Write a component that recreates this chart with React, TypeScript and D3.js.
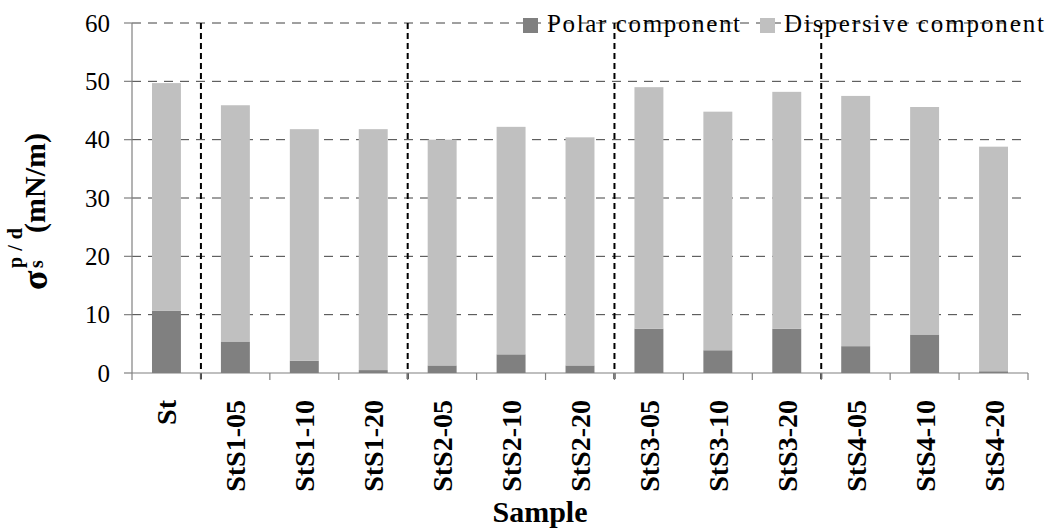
import React from 'react';
import { scaleBand, scaleLinear, stack, range } from 'd3';

const width = 1046;
const height = 529;
const margin = { top: 23, right: 18, bottom: 156, left: 132 };

const samples = ['St', 'StS1-05', 'StS1-10', 'StS1-20', 'StS2-05', 'StS2-10', 'StS2-20',
    'StS3-05', 'StS3-10', 'StS3-20', 'StS4-05', 'StS4-10', 'StS4-20'];
const polar = [10.7, 5.4, 2.1, 0.5, 1.3, 3.2, 1.3, 7.6, 3.9, 7.6, 4.6, 6.6, 0.3];
const dispersive = [39.0, 40.5, 39.7, 41.3, 38.7, 39.0, 39.1, 41.4, 40.9, 40.6, 42.9, 39.0, 38.5];
const yTicks = [0, 10, 20, 30, 40, 50, 60];
// indices of the first sample in each group (a dashed line is drawn before them)
const groupStarts = [1, 4, 7, 10];

const seriesKeys = ['polar', 'dispersive'];
const seriesNames = ['Polar component', 'Dispersive component'];
const colors = ['#808080', '#c0c0c0'];

const FONT = 'Liberation Serif, Times New Roman, Tinos, serif';
const tx = { fontFamily: FONT };

const App = () => {
    const plotW = width - margin.left - margin.right;
    const plotH = height - margin.top - margin.bottom;

    const x = scaleBand().domain(samples).range([margin.left, margin.left + plotW])
        .paddingInner(0.58).paddingOuter(0.29);
    const y = scaleLinear().domain([0, 60]).range([margin.top + plotH, margin.top]);

    const rows = samples.map((s, i) => ({ sample: s, polar: polar[i], dispersive: dispersive[i] }));
    const layers = stack().keys(seriesKeys)(rows as any);

    const step = x.step();
    const boundary = (i) => margin.left + i * step;
    const y0 = y(0);

    return (
        <svg width={width} height={height} style={{ position: 'absolute', left: 0, top: 0, fontFamily: FONT }}>
            <rect width={width} height={height} fill="#fff" />
            {/* horizontal grid */}
            {yTicks.filter(t => t > 0).map(t => (
                <line key={t} x1={margin.left} x2={margin.left + plotW} y1={y(t)} y2={y(t)}
                    stroke="#404040" strokeWidth={1} strokeDasharray="9,7" />
            ))}
            {/* bars */}
            {layers.map((layer, li) => (
                <g key={li} fill={colors[li]}>
                    {layer.map((d, i) => (
                        <rect key={i} x={x(samples[i])} width={x.bandwidth()}
                            y={y(d[1])} height={y(d[0]) - y(d[1])} />
                    ))}
                </g>
            ))}
            {/* group separators */}
            {groupStarts.map(g => (
                <line key={g} x1={boundary(g)} x2={boundary(g)} y1={y(60)} y2={y0 + 7}
                    stroke="#000" strokeWidth={2} strokeDasharray="6,4" />
            ))}
            {/* axes */}
            <line x1={margin.left} x2={margin.left} y1={y(60)} y2={y0} stroke="#808080" strokeWidth={1.2} />
            <line x1={margin.left} x2={margin.left + plotW} y1={y0} y2={y0} stroke="#808080" strokeWidth={1.2} />
            {yTicks.map(t => (
                <g key={t}>
                    <line x1={margin.left - 8} x2={margin.left} y1={y(t)} y2={y(t)} stroke="#808080" strokeWidth={1.2} />
                    <text x={margin.left - 22} y={y(t)} dy="0.34em" textAnchor="end" fontSize={25} style={tx}>{String(t)}</text>
                </g>
            ))}
            {range(samples.length + 1).map(i => (
                <line key={i} x1={boundary(i)} x2={boundary(i)} y1={y0} y2={y0 + 7} stroke="#808080" strokeWidth={1.2} />
            ))}
            {samples.map(s => {
                const cx = x(s) + x.bandwidth() / 2;
                return (
                    <text key={s} transform={`translate(${cx + 10},400) rotate(-90)`} textAnchor="end"
                        fontSize={28} fontWeight="bold" style={tx}>{s}</text>
                );
            })}
            <text x={540} y={522} textAnchor="middle" fontSize={30} fontWeight="bold" style={tx}>Sample</text>
            {/* y axis title */}
            <g transform="rotate(-90)" fontWeight="bold">
                <text x={-290} y={47} fontSize={36} style={tx}>σ</text>
                <text x={-268} y={43} fontSize={20} style={tx}>s</text>
                <text x={-268} y={22} fontSize={20} textLength={40} lengthAdjust="spacing" style={tx}>p/d</text>
                <text x={-233} y={45} fontSize={30} textLength={100} lengthAdjust="spacing" style={tx}>(mN/m)</text>
            </g>
            {/* legend */}
            {seriesNames.map((name, i) => {
                const lx = [523, 760][i];
                const tl = [193, 260][i];
                return (
                    <g key={name}>
                        <rect x={lx} y={18} width={15} height={15} fill={colors[i]} />
                        <text x={lx + 24} y={32} fontSize={25} textLength={tl} lengthAdjust="spacing" style={tx}>{name}</text>
                    </g>
                );
            })}
        </svg>
    );
};

export default App;
